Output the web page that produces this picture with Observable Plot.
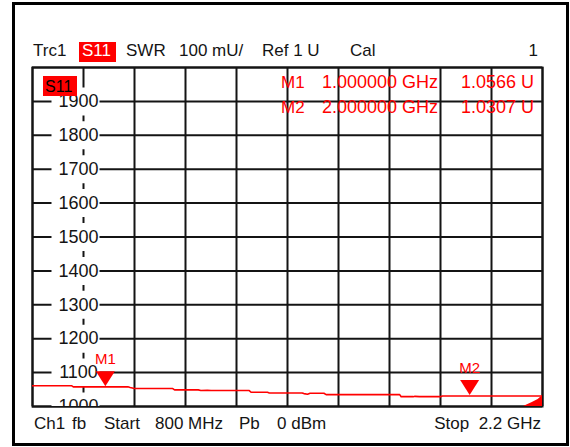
<!DOCTYPE html>
<html><head><meta charset="utf-8">
<script src="https://cdn.jsdelivr.net/npm/d3@7"></script>
<script src="https://cdn.jsdelivr.net/npm/@observablehq/plot@0.6"></script>
<style>
html,body{margin:0;padding:0;background:#fff;}
#chart{width:570px;height:447px;}
</style></head><body><div id="chart"></div>
<script>
// ---- data (frequency in MHz, SWR in mU) ----
const freqMHz   = [800, 908, 912, 1062, 1068, 1080, 1185, 1190, 1255, 1262, 1280, 1290, 1395, 1400, 1445, 1450, 1540, 1545, 1555, 1562, 1600, 1606, 1808, 1812, 1845, 1850, 1862, 1920, 1925, 2145, 2200];
const swrMilliU = [1061, 1061, 1058, 1058, 1056, 1053, 1053, 1049, 1049, 1047, 1048, 1047, 1047, 1042, 1042, 1040, 1040, 1038, 1036, 1039, 1039, 1035, 1035, 1029, 1029, 1030, 1029, 1029, 1031, 1031, 1031];
const tailFreqMHz   = [2148, 2172, 2188, 2200];
const tailSwrMilliU = [1000, 1012, 1021, 1032];
const xGridMHz   = [800, 940, 1080, 1220, 1360, 1500, 1640, 1780, 1920, 2060, 2200];
const yGridMilliU = [1000, 1100, 1200, 1300, 1400, 1500, 1600, 1700, 1800, 1900, 2000];
const yTickLabels = [1000, 1100, 1200, 1300, 1400, 1500, 1600, 1700, 1800, 1900];
const markerNames   = ["M1", "M2"];
const markerFreqMHz = [1000, 2000];
const markerSwrU    = [1.0566, 1.0307];
const markerFreqText = ["1.000000 GHz", "2.000000 GHz"];
const markerValueText = ["1.0566 U", "1.0307 U"];
const headerTexts = ["Trc1", "S11", "SWR", "100 mU/", "Ref 1 U", "Cal", "1"];
const footerTexts = ["Ch1", "fb", "Start", "800 MHz", "Pb", "0 dBm", "Stop  2.2 GHz"];
const traceName = "S11";

// ---- styles ----
const RED = "#ff0000";
const INK = "#141414";
const FONT = "'Liberation Sans', Arial, Helvetica, sans-serif";

const trace = freqMHz.map((f, i) => ({f, v: swrMilliU[i]}));
const tail = tailFreqMHz.map((f, i) => ({f, v: tailSwrMilliU[i], base: 990}));
const markers = markerNames.map((n, i) => ({n, f: markerFreqMHz[i], v: markerSwrU[i] * 1000}));

const downTriangle = {draw(ctx) { ctx.moveTo(-9.5, -15); ctx.lineTo(9.5, -15); ctx.lineTo(0, 0); ctx.closePath(); }};
const labelBox = {draw(ctx) { ctx.rect(-24, -14, 48, 28); }};

const svg = Plot.plot({
  width: 570, height: 447,
  marginLeft: 32, marginRight: 28, marginTop: 67, marginBottom: 41,
  style: {fontFamily: FONT, background: "#fff", color: INK},
  x: {domain: [800, 2200], axis: null},
  y: {domain: [1000, 2000], axis: null},
  marks: [
    Plot.ruleX(xGridMHz, {stroke: INK, strokeWidth: 2, strokeOpacity: 1}),
    Plot.ruleY(yGridMilliU, {stroke: INK, strokeWidth: 2, strokeOpacity: 1}),
    Plot.frame({stroke: INK, strokeWidth: 2}),
    Plot.dot(yTickLabels, {x: () => xGridMHz[1], y: d => d, symbol: labelBox, fill: "white", stroke: "none", dx: -8, clip: true}),
    Plot.text(yTickLabels, {x: () => xGridMHz[1], y: d => d, text: d => String(d), dx: -5, fontSize: 18, fill: INK, clip: true}),
    Plot.areaY(tail, {x: "f", y1: "base", y2: "v", fill: RED, clip: true}),
    Plot.line(trace, {x: "f", y: "v", stroke: RED, strokeWidth: 1.6, clip: true}),
    Plot.dot(markers, {x: "f", y: "v", symbol: downTriangle, fill: RED, stroke: "none", dy: -1}),
    Plot.text(markers, {x: "f", y: "v", text: "n", dy: -28, fontSize: 15, fill: RED})
  ]
});

const s = d3.select(svg);
// outer box
s.append("rect").attr("x", 13.5).attr("y", 3.5).attr("width", 554).attr("height", 441)
  .attr("fill", "none").attr("stroke", "#000").attr("stroke-width", 3);

function txt(x, y, str, opts = {}) {
  return s.append("text").attr("x", x).attr("y", y).text(str)
    .attr("font-family", FONT).attr("font-size", opts.size || 17)
    .attr("fill", opts.fill || INK).attr("text-anchor", opts.anchor || "start")
    .style("white-space", "pre");
}

// header
const hx = [33, 82, 126, 179, 262, 350, 538];
s.append("rect").attr("x", 79).attr("y", 42).attr("width", 37).attr("height", 20).attr("fill", RED);
headerTexts.forEach((t, i) => txt(hx[i], 56, t, {fill: i === 1 ? "#fff" : INK, anchor: i === headerTexts.length - 1 ? "end" : "start"}));

// trace label inside the grid
s.append("rect").attr("x", 43).attr("y", 76).attr("width", 34).attr("height", 20).attr("fill", RED);
txt(45, 92, traceName, {fill: "#000", size: 16});

// marker readouts
const rowY = [88, 113];
markerNames.forEach((n, i) => {
  txt(281, rowY[i], n, {fill: RED, size: 17});
  txt(438, rowY[i], markerFreqText[i], {fill: RED, size: 18, anchor: "end"});
  txt(534, rowY[i], markerValueText[i], {fill: RED, size: 18, anchor: "end"});
});

// footer
const fx = [34, 72, 104, 155, 239, 277, 541];
footerTexts.forEach((t, i) => txt(fx[i], 429, t, {anchor: i === footerTexts.length - 1 ? "end" : "start"}));

document.getElementById("chart").appendChild(svg);
</script>
</body></html>
